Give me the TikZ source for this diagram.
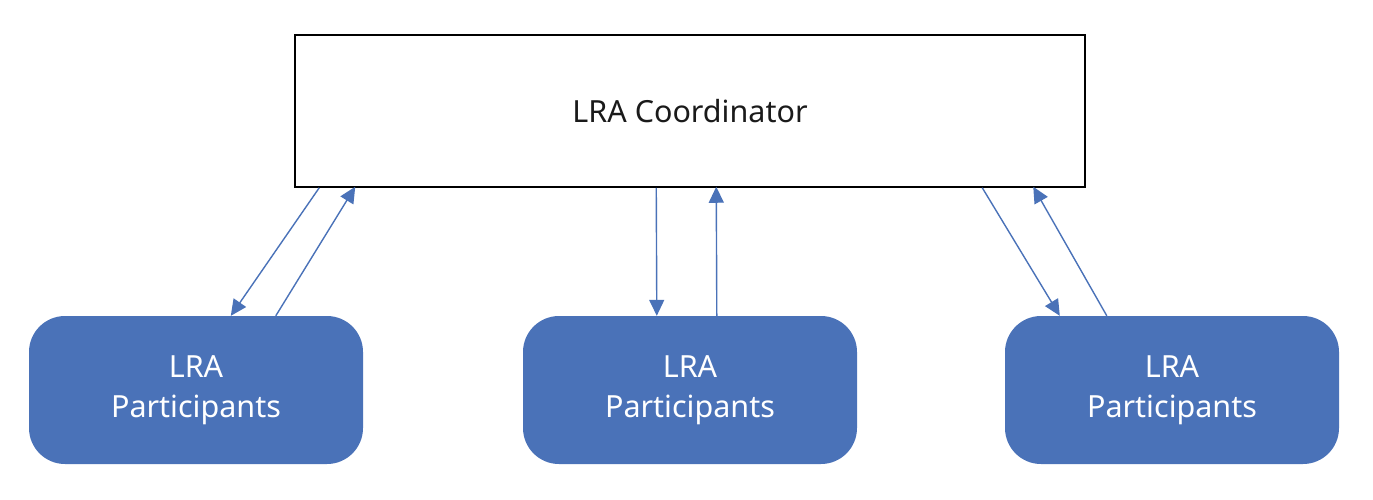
\documentclass[tikz,border=0pt]{standalone}
\usepackage{fontspec}
\setmainfont{Noto Sans}
\usetikzlibrary{arrows.meta,positioning}
\definecolor{offblue}{HTML}{4A72B8}
\definecolor{txt}{HTML}{1A1A1A}
\begin{document}
\begin{tikzpicture}[x=1pt,y=-1pt,
  coordbox/.style={draw=black,line width=1.5pt,fill=white,minimum width=790pt,minimum height=152pt,inner sep=0pt,text=txt,font=\fontsize{30.5}{40}\selectfont},
  partbox/.style={fill=offblue,draw=none,rounded corners=36pt,minimum width=334pt,minimum height=148pt,inner sep=0pt,align=center,text=white,font=\fontsize{30.5}{40}\selectfont},
  arr/.style={draw=offblue,line width=1.4pt,-{Triangle[length=16pt,width=15pt]}}]
\useasboundingbox (0,0) rectangle (1373,499);
\node[coordbox] (c) at (690,111) {LRA Coordinator};
\node[partbox] (p1) at (196,390) {LRA\\Participants};
\node[partbox] (p2) at (690,390) {LRA\\Participants};
\node[partbox] (p3) at (1172,390) {LRA\\Participants};
% left pair
\coordinate (c1a) at ([xshift=25pt]c.south west);
\coordinate (p1a) at ([xshift=202pt]p1.north west);
\coordinate (p1b) at ([xshift=247pt]p1.north west);
\coordinate (c1b) at ([xshift=61pt,yshift=1pt]c.south west);
\draw[arr] (c1a) -- (p1a);
\draw[arr] (p1b) -- (c1b);
% middle pair
\coordinate (c2a) at ([xshift=362pt]c.south west);
\coordinate (p2a) at ([xshift=134pt]p2.north west);
\coordinate (p2b) at ([xshift=194pt]p2.north west);
\coordinate (c2b) at ([xshift=422pt,yshift=1pt]c.south west);
\draw[arr] (c2a) -- (p2a);
\draw[arr] (p2b) -- (c2b);
% right pair
\coordinate (c3a) at ([xshift=688pt]c.south west);
\coordinate (p3a) at ([xshift=55pt]p3.north west);
\coordinate (p3b) at ([xshift=102pt]p3.north west);
\coordinate (c3b) at ([xshift=739pt,yshift=1pt]c.south west);
\draw[arr] (c3a) -- (p3a);
\draw[arr] (p3b) -- (c3b);
\end{tikzpicture}
\end{document}
